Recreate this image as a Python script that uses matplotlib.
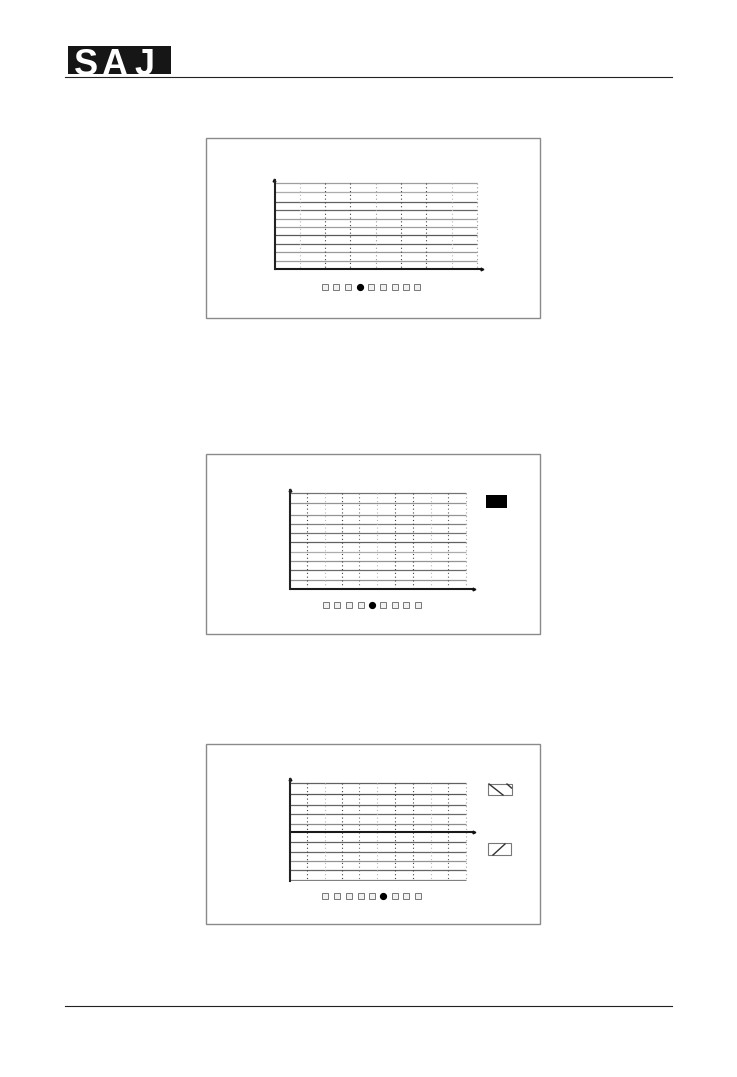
import matplotlib
matplotlib.use("Agg")
import matplotlib.pyplot as plt
from matplotlib.patches import Rectangle

W, H = 737, 1077

# Panel frames: left, top, right, bottom (page pixels)
frames = [(206.5, 137.5, 539.8, 318.2), (206.5, 453.8, 539.8, 634), (206.5, 744, 539.8, 924)]

# Chart 1
h1 = [182.7, 192.3, 202.3, 210.3, 219, 227.3, 235.3, 244.3, 252.3, 260.7]
h1_grey = [.62, .68, .38, .40, .62, .62, .35, .38, .60, .62]
v1 = [300.3, 325.3, 350.3, 375.7, 401.3, 426.3, 452.3, 477]
v1_grey = [.72, .25, .25, .6, .25, .25, .72, .6]
# Chart 2
h2 = [493, 503.3, 515, 524.3, 533.3, 542.3, 552, 560.7, 570.3, 580.3]
h2_grey = [.45, .58, .58, .5, .45, .38, .68, .58, .42, .58]
v2 = [307.3, 324.7, 342.3, 359.3, 377.3, 395.3, 413.3, 430.7, 448.3, 466]
v2_grey = [.25, .72, .25, .45, .72, .25, .25, .72, .35, .65]
# Chart 3
h3 = [783, 794.3, 805.3, 814.3, 824.3, 842.3, 851.7, 860.7, 870.3, 880.3]
h3_grey = [.38, .35, .40, .42, .55, .38, .40, .58, .40, .50]
v3 = [307.3, 324.7, 342.3, 359.3, 377.3, 395.3, 413.3, 430.7, 448.3, 466]
v3_grey = [.25, .72, .25, .45, .72, .25, .25, .72, .35, .65]

# Axes geometry: y-axis x, top, bottom, arrow end, x-axis y, grid end
axes_geo = [(274.5, 180, 269, 482, 269, 477.5), (289.8, 489.5, 589, 474, 589, 466), (289.8, 779.3, 880.5, 474, 832.3, 466)]
h_sets = [h1, h2, h3]
h_shades = [h1_grey, h2_grey, h3_grey]
v_sets = [v1, v2, v3]
v_shades = [v1_grey, v2_grey, v3_grey]

# Selector squares
sq_x = [[325, 336, 348.3, 360.3, 371.3, 382.7, 394.7, 406, 417.3],
        [325.7, 336.7, 349, 360.7, 371.7, 383.3, 395, 406.3, 418],
        [325.3, 336.7, 349, 360.7, 372, 383, 395, 406.3, 418]]
sq_y = [287.3, 605, 895.7]
sq_active = [3, 4, 5]

fig = plt.figure(figsize=(W / 100, H / 100), dpi=100, facecolor="white")
page = fig.add_axes([0, 0, 1, 1])
page.set_xlim(0, W)
page.set_ylim(H, 0)
page.axis("off")

# Logo and page rules
page.add_patch(Rectangle((68.3, 46), 102.7, 28, fc="#161616", ec="none"))
logo_x = [86, 114.5, 145]
for x, ch in zip(logo_x, "SAJ"):
    page.text(x, 75, ch, color="white", family="Liberation Sans", weight="bold",
              fontsize=26, ha="center", va="baseline")
page.plot([65, 672], [77.3, 77.3], color="#222222", lw=0.8, zorder=6)
page.plot([65, 672], [1006.3, 1006.3], color="#222222", lw=0.8)

# Frames
for l, t, r, b in frames:
    page.add_patch(Rectangle((l, t), r - l, b - t, fc="none", ec="#8a8a8a", lw=1.0))

# Charts
for i in range(3):
    x0, top, bot, xend, xaxis_y, gend = axes_geo[i]
    ax = fig.add_axes([x0 / W, 1 - bot / H, (xend - x0) / W, (bot - top) / H])
    ax.set_xlim(x0, xend)
    ax.set_ylim(bot, top)
    ax.patch.set_alpha(0)
    for s in ("top", "right", "bottom"):
        ax.spines[s].set_visible(False)
    ax.spines["left"].set_linewidth(1.5)
    ax.spines["left"].set_color("#222222")
    ax.set_xticks([])
    ax.set_yticks([])
    for y, g in zip(h_sets[i], h_shades[i]):
        ax.plot([x0, gend], [y, y], color=str(g), lw=0.9, solid_capstyle="butt")
    for x, g in zip(v_sets[i], v_shades[i]):
        ax.plot([x, x], [h_sets[i][0], bot if i != 2 else h_sets[i][-1]], color=str(g), lw=0.8,
                dashes=(1, 2.4))
    ax.plot([x0, xend], [xaxis_y, xaxis_y], color="#1a1a1a", lw=1.5, clip_on=False, solid_capstyle="butt")
    ax.plot([xend], [xaxis_y], marker=">", ms=2, color="#111111", clip_on=False)
    ax.plot([x0], [top], marker="^", ms=2, color="#111111", clip_on=False)
    for k, x in enumerate(sq_x[i]):
        if k == sq_active[i]:
            page.plot([x], [sq_y[i]], "o", ms=4.2, color="black")
        else:
            page.plot([x], [sq_y[i]], "s", ms=3.8, mfc="#f2f2f2", mec="#777777", mew=0.7)

# Mode indicators at the right of charts 2 and 3
page.add_patch(Rectangle((486.3, 495), 20.4, 12.7, fc="black", ec="none"))
page.add_patch(Rectangle((488.3, 783.7), 23.4, 11.6, fc="white", ec="#777777", lw=0.8))
page.plot([489, 503], [784, 795], color="#333333", lw=1.0)
page.plot([507, 511.5], [784, 788], color="#333333", lw=1.0)
page.add_patch(Rectangle((487.7, 843.3), 23.3, 11.7, fc="white", ec="#777777", lw=0.8))
page.plot([493, 505], [855, 844], color="#333333", lw=1.0)

fig.savefig("out.png", dpi=100)
